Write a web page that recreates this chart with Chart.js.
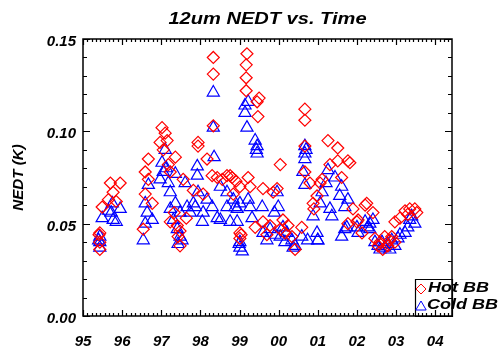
<!DOCTYPE html>
<html>
<head>
<meta charset="utf-8">
<script src="https://cdn.jsdelivr.net/npm/chart.js@4"></script>
<style>
  html, body { margin: 0; padding: 0; background: #fff; }
  #wrap { width: 503px; height: 349px; }
</style>
</head>
<body>
<div id="wrap"><canvas id="nedtChart" width="503" height="349"></canvas></div>
<script>
// year labels shown under the x axis
const yearLabels = ['95', '96', '97', '98', '99', '00', '01', '02', '03', '04'];

// Hot BB (red diamonds): decimal year and NEDT in K
const hotYears = [
    1995.43, 1995.43, 1995.43, 1995.41,
    1995.70, 1995.95, 1995.77, 1995.49, 1995.65, 1995.85,
    1996.67, 1996.59, 1996.67, 1996.59, 1996.77, 1996.54,
    1997.02, 1997.10, 1996.97, 1997.15, 1997.05, 1997.36, 1997.23, 1997.18,
    1997.56, 1997.23, 1997.41, 1997.48, 1997.43, 1997.48, 1997.64, 1997.33,
    1997.94, 1997.94, 1998.17, 1998.30, 1998.43, 1997.82, 1998.07,
    1998.33, 1998.33, 1998.33,
    1998.68, 1998.76, 1999.01, 1998.84, 1998.56, 1998.91, 1998.81,
    1999.01, 1999.01, 1999.04,
    1999.19, 1999.17, 1999.17, 1999.17, 1999.45, 1999.47, 1999.50,
    1999.22, 1999.27, 1999.60, 1999.96, 2000.04, 1999.86,
    1999.60, 1999.78, 2000.11, 2000.04, 2000.24, 2000.59, 2000.42, 2000.16, 1999.70, 1999.40, 2000.34,
    2000.67, 2000.67, 2000.67, 2000.67,
    2001.26, 2001.51, 2001.77, 2001.51, 2001.11, 2001.61, 2001.31, 2000.88, 2001.06, 2000.80, 2001.82, 2000.90, 2000.98,
    2001.90, 2002.00, 2002.25, 2002.41, 2002.13, 2002.21, 2002.03, 2001.77,
    2002.46, 2002.59, 2002.71, 2002.84, 2002.54, 2002.79, 2002.97, 2002.66, 2002.89,
    2003.23, 2003.35, 2003.48, 2003.53, 2002.97, 2003.30, 2003.10
];
const hotNedt = [
    0.045, 0.040, 0.036, 0.044,
    0.072, 0.072, 0.067, 0.059, 0.063, 0.062,
    0.085, 0.078, 0.074, 0.066, 0.061, 0.047,
    0.102, 0.099, 0.094, 0.095, 0.090, 0.086, 0.078, 0.082,
    0.074, 0.051, 0.049, 0.046, 0.043, 0.038, 0.053, 0.056,
    0.094, 0.092, 0.085, 0.076, 0.075, 0.068, 0.066,
    0.140, 0.131, 0.103,
    0.076, 0.076, 0.070, 0.066, 0.074, 0.073, 0.075,
    0.045, 0.042, 0.044,
    0.142, 0.136, 0.129, 0.122, 0.116, 0.108, 0.118,
    0.075, 0.070, 0.069, 0.069, 0.082, 0.067,
    0.051, 0.049, 0.052, 0.047, 0.049, 0.048, 0.036, 0.045, 0.044, 0.048, 0.043,
    0.112, 0.106, 0.092, 0.078,
    0.095, 0.091, 0.084, 0.084, 0.074, 0.075, 0.082, 0.061, 0.072, 0.072, 0.083, 0.058, 0.065,
    0.058, 0.051, 0.061, 0.056, 0.045, 0.060, 0.052, 0.050,
    0.042, 0.040, 0.043, 0.041, 0.038, 0.038, 0.040, 0.036, 0.043,
    0.057, 0.058, 0.058, 0.056, 0.051, 0.055, 0.053
];

// Cold BB (blue triangles)
const coldYears = [
    1995.43, 1995.43, 1995.43, 1995.40,
    1995.75, 1995.49, 1995.77, 1995.95, 1995.72, 1995.85, 1995.65,
    1996.67, 1996.59, 1996.64, 1996.77, 1996.54, 1996.59,
    1997.10, 1997.02, 1997.05, 1997.36, 1996.97, 1997.18, 1997.23, 1997.36, 1997.23, 1997.13,
    1997.61, 1997.48, 1997.66, 1997.41, 1997.48, 1997.43, 1997.53, 1997.74, 1997.82, 1997.31,
    1997.92, 1997.92, 1997.94, 1997.87, 1998.07, 1998.17, 1998.35, 1998.30, 1998.43, 1998.05,
    1998.33, 1998.33,
    1998.51, 1998.68, 1998.68, 1998.89, 1998.51, 1998.76, 1999.01, 1998.84,
    1999.01, 1999.01, 1999.07, 1998.99,
    1999.14, 1999.14, 1999.19, 1999.22, 1999.40, 1999.45, 1999.45, 1999.43,
    1999.22, 1999.27, 1999.32, 1999.58, 1999.96, 1999.99, 1999.89, 1998.94, 1998.94,
    1999.60, 1999.70, 2000.04, 2000.21, 2000.34, 2000.37, 2000.11, 2000.59, 2000.74, 2001.00, 2000.42, 1999.78, 1999.91, 2000.16,
    2000.67, 2000.67, 2000.67, 2000.62, 2000.67, 2000.70,
    2001.26, 2001.11, 2001.44, 2001.36, 2001.77, 2001.61, 2001.69, 2001.00, 2001.69, 2001.31, 2001.56, 2001.06, 2000.88, 2000.98, 2001.21,
    2002.21, 2002.28, 2002.03, 2001.61, 2001.74, 2002.00, 2002.33, 2002.41, 2002.33,
    2002.46, 2002.54, 2002.64, 2002.71, 2002.79, 2002.89, 2002.97, 2002.59, 2002.84, 2003.05,
    2003.35, 2003.48, 2003.30, 2003.23, 2003.40, 2003.10
];
const coldNedt = [
    0.043, 0.040, 0.037, 0.041,
    0.061, 0.053, 0.052, 0.058, 0.056, 0.051, 0.057,
    0.071, 0.061, 0.056, 0.052, 0.041, 0.050,
    0.090, 0.083, 0.078, 0.077, 0.074, 0.072, 0.067, 0.061, 0.058, 0.080,
    0.072, 0.056, 0.059, 0.047, 0.043, 0.039, 0.041, 0.056, 0.061, 0.052,
    0.081, 0.076, 0.067, 0.059, 0.056, 0.063, 0.086, 0.059, 0.053, 0.051,
    0.121, 0.102,
    0.070, 0.067, 0.059, 0.059, 0.052, 0.051, 0.061, 0.063,
    0.040, 0.037, 0.035, 0.039,
    0.114, 0.110, 0.102, 0.116, 0.095, 0.092, 0.088, 0.090,
    0.063, 0.059, 0.053, 0.059, 0.067, 0.059, 0.056, 0.058, 0.051,
    0.045, 0.041, 0.043, 0.045, 0.041, 0.037, 0.048, 0.043, 0.041, 0.041, 0.038, 0.047, 0.044, 0.040,
    0.092, 0.088, 0.085, 0.078, 0.071, 0.090,
    0.079, 0.067, 0.075, 0.054, 0.063, 0.070, 0.059, 0.041, 0.047, 0.058, 0.065, 0.061, 0.054, 0.045, 0.072,
    0.051, 0.048, 0.045, 0.043, 0.048, 0.048, 0.050, 0.052, 0.047,
    0.040, 0.038, 0.040, 0.037, 0.039, 0.041, 0.038, 0.036, 0.036, 0.042,
    0.052, 0.050, 0.048, 0.045, 0.054, 0.044
];

const FONT = 'Liberation Sans, Arial, Helvetica, sans-serif';

function toPoints(xs, ys) {
    return xs.map((x, i) => ({ x: x, y: ys[i] }));
}

// stretched italic bold text, like the IDL hardware font
function stretchText(ctx, text, x, y, size, align, sx) {
    ctx.save();
    ctx.translate(x, y);
    ctx.scale(sx, 1);
    ctx.font = 'italic bold ' + size + 'px ' + FONT;
    ctx.textAlign = align;
    ctx.textBaseline = 'middle';
    ctx.fillStyle = '#000';
    ctx.fillText(text, 0, 0);
    ctx.restore();
}

const framePlugin = {
    id: 'frame',
    afterDraw(chart) {
        const ctx = chart.ctx;
        const a = chart.chartArea;
        const xs = chart.scales.x;
        const ys = chart.scales.y;
        const L = Math.round(a.left), R = Math.round(a.right);
        const T = Math.round(a.top), B = Math.round(a.bottom);
        ctx.save();
        ctx.strokeStyle = '#000';
        ctx.lineWidth = 1.5;
        ctx.beginPath();
        ctx.rect(L, T, R - L, B - T);
        ctx.stroke();

        // inward ticks, y axis (left and right)
        ctx.lineWidth = 1.2;
        ctx.beginPath();
        for (let k = 0; k <= 15; k++) {
            const py = Math.round(ys.getPixelForValue(k * 0.01)) + 0.5;
            const len = k % 5 === 0 ? 7 : 4;
            ctx.moveTo(L, py); ctx.lineTo(L + len, py);
            ctx.moveTo(R, py); ctx.lineTo(R - len, py);
        }
        // inward ticks, x axis (bottom and top)
        for (let yr = 1995; yr <= 2004; yr++) {
            for (let m = 0; m < 9; m++) {
                const v = yr + m / 9;
                if (v > xs.max) break;
                const px = Math.round(xs.getPixelForValue(v)) + 0.5;
                const len = m === 0 ? 6 : 3;
                ctx.moveTo(px, B); ctx.lineTo(px, B - len);
                ctx.moveTo(px, T); ctx.lineTo(px, T + len);
            }
        }
        ctx.stroke();

        // title
        stretchText(ctx, '12um NEDT vs. Time', (a.left + a.right) / 2, 19, 17, 'center', 1.18);

        // y axis title
        ctx.save();
        ctx.translate(19.5, (a.top + a.bottom) / 2);
        ctx.rotate(-Math.PI / 2);
        stretchText(ctx, 'NEDT (K)', 0, 0, 14, 'center', 1.08);
        ctx.restore();

        // legend box in the lower right corner
        const bx = R - 37, by = B - 37;
        ctx.lineWidth = 1.2;
        ctx.beginPath();
        ctx.rect(bx + 0.5, by + 0.5, R - bx, B - by);
        ctx.stroke();

        ctx.fillStyle = 'rgba(0,0,0,0)';
        ctx.lineWidth = 1;
        ctx.strokeStyle = '#ff0000';
        Chart.helpers.drawPoint(ctx, { pointStyle: 'rectRot', radius: 5, borderWidth: 1 }, bx + 6, by + 10);
        ctx.strokeStyle = '#0000ff';
        Chart.helpers.drawPoint(ctx, { pointStyle: 'triangle', radius: 6, borderWidth: 1 }, bx + 6, by + 28);
        ctx.restore();
        stretchText(ctx, 'Hot BB', bx + 13, by + 9, 15, 'left', 1.2);
        stretchText(ctx, 'Cold BB', bx + 12, by + 26, 15, 'left', 1.2);
    }
};

const tickFont = { family: FONT, size: 15, style: 'italic', weight: 'bold' };

new Chart(document.getElementById('nedtChart').getContext('2d'), {
    type: 'scatter',
    data: {
        datasets: [
            {
                label: 'Hot BB',
                data: toPoints(hotYears, hotNedt),
                pointStyle: 'rectRot',
                pointRadius: 6,
                borderColor: '#ff0000',
                backgroundColor: 'rgba(0,0,0,0)',
                borderWidth: 1.2
            },
            {
                label: 'Cold BB',
                data: toPoints(coldYears, coldNedt),
                pointStyle: 'triangle',
                pointRadius: 7,
                borderColor: '#0000ff',
                backgroundColor: 'rgba(0,0,0,0)',
                borderWidth: 1.2
            }
        ]
    },
    options: {
        responsive: false,
        animation: false,
        devicePixelRatio: 1,
        layout: { padding: { top: 39, right: 51, left: 0, bottom: 0 } },
        plugins: {
            legend: { display: false },
            title: { display: false },
            tooltip: { enabled: false }
        },
        scales: {
            x: {
                type: 'linear',
                min: 1995,
                max: 2004.43,
                grid: { display: false, drawTicks: false },
                border: { display: false },
                afterBuildTicks: scale => {
                    scale.ticks = yearLabels.map((l, i) => ({ value: 1995 + i }));
                },
                afterFit: scale => { scale.height = 33; },
                ticks: {
                    padding: 17,
                    color: '#000',
                    font: tickFont,
                    maxRotation: 0,
                    autoSkip: false,
                    callback: (v) => yearLabels[Math.round(v) - 1995]
                }
            },
            y: {
                min: 0,
                max: 0.15,
                grid: { display: false, drawTicks: false },
                border: { display: false },
                afterFit: scale => { scale.width = 83; },
                ticks: {
                    stepSize: 0.05,
                    padding: 7,
                    labelOffset: 3,
                    color: '#000',
                    font: tickFont,
                    callback: v => v.toFixed(2)
                }
            }
        }
    },
    plugins: [framePlugin]
});
</script>
</body>
</html>
